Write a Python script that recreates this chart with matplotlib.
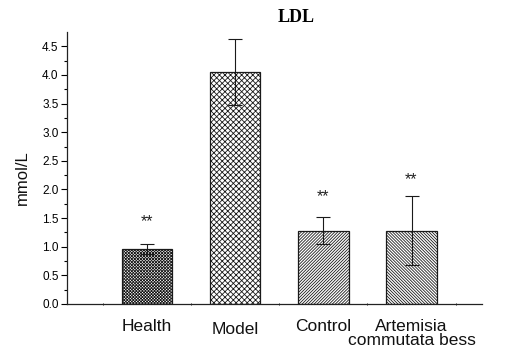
import matplotlib
matplotlib.use("Agg")
import matplotlib.pyplot as plt
import matplotlib.transforms as mtransforms
import numpy as np

categories = ["Health", "Model", "Control", "Artemisia\ncommutata bess"]
values = [0.96, 4.05, 1.28, 1.28]
errors = [0.08, 0.58, 0.24, 0.60]
stars = ["**", "", "**", "**"]
star_y = [1.44, None, 1.87, 2.18]
hatches = ["x" * 11, "x" * 6, "/" * 11, "\\" * 11]
yticks = [0.0, 0.5, 1.0, 1.5, 2.0, 2.5, 3.0, 3.5, 4.0, 4.5]
ytick_labels = ["0.0", "0.5", "1.0", "1.5", "2.0", "2.5", "3.0", "3.5", "4.0", "4.5"]

plt.rcParams['font.family'] = ['Liberation Sans', 'DejaVu Sans']
plt.rcParams['hatch.linewidth'] = 0.6

fig = plt.figure(figsize=(5.13, 3.56), dpi=100)
ax = fig.add_axes([67/513, 1-304/356, (482-67)/513, (304-32)/356])

x = np.arange(len(categories))
for xi, v, h in zip(x, values, hatches):
    ax.bar(xi, v, width=0.57, color="white", edgecolor="#1a1a1a", hatch=h,
           linewidth=0.9, zorder=2)
ax.errorbar(x, values, yerr=errors, fmt="none", ecolor="#1a1a1a",
            elinewidth=0.8, capsize=5, capthick=0.8, zorder=3)
for xi, s, sy in zip(x, stars, star_y):
    if s:
        ax.text(xi, sy, s, ha="center", va="center", fontsize=11.5, color="#222222")

ax.set_xlim(-0.91, 3.80)
ax.set_ylim(0, 4.75)
ax.set_yticks(yticks)
ax.set_yticklabels(ytick_labels, fontsize=8.5)
ax.set_yticks(np.arange(0.25, 4.75, 0.5), minor=True)
ax.tick_params(axis="y", which="major", length=4, width=0.8, direction="out", pad=2)
ax.tick_params(axis="y", which="minor", length=2.5, width=0.8, direction="out")
ax.set_xticks([-0.5, 0.5, 1.5, 2.5, 3.5])
ax.set_xticklabels([])
ax.tick_params(axis="x", which="major", length=2, width=0.6, direction="inout")

for sp in ["top", "right"]:
    ax.spines[sp].set_visible(False)
for sp in ["left", "bottom"]:
    ax.spines[sp].set_linewidth(0.9)
    ax.spines[sp].set_color("#222222")

trans = mtransforms.blended_transform_factory(ax.transData, ax.transAxes)
label_dy = [0.0, -0.012, 0.0, 0.0]
for xi, c, dy in zip(x, categories, label_dy):
    ax.text(xi, -0.055 + dy, c, transform=trans, ha="center", va="top",
            fontsize=12.5, linespacing=0.9, color="#111111")

fig.text(296/513, 1-18/356, "LDL", ha="center", va="center", fontsize=13,
         fontweight="bold", family=["Liberation Serif", "DejaVu Serif"])
fig.text(22/513, 1-178/356, "mmol/L", rotation=90, ha="center", va="center",
         fontsize=12, color="#111111")

fig.savefig("out.png", dpi=100)
